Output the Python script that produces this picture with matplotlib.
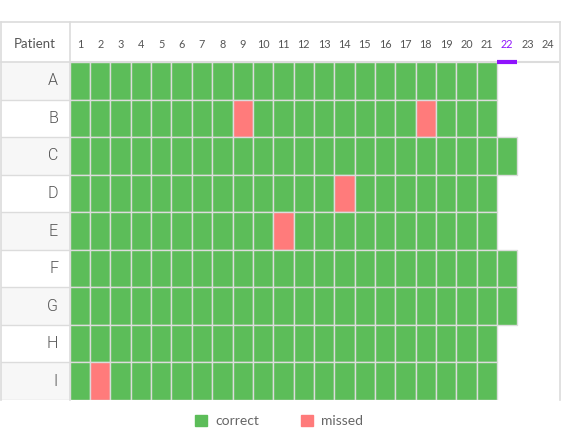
import matplotlib
matplotlib.use('Agg')
import matplotlib.pyplot as plt
from matplotlib.patches import Patch
from matplotlib.lines import Line2D
import numpy as np

plt.rcParams['font.family'] = ['Lato', 'DejaVu Sans']

# data
patients = ['A', 'B', 'C', 'D', 'E', 'F', 'G', 'H', 'I']
days_taken = [21, 21, 22, 21, 21, 22, 22, 21, 21]
missed = {'B': [9, 18], 'D': [14], 'E': [11], 'I': [2]}
day_labels = list(range(1, 25))
today = 22

GREEN = '#5cbd59'
RED = '#ff7b7b'
PURPLE = '#8f13fd'
LINE = '#dcdcdc'

W, H = 562, 436


def box(l, t, r, b):
    """ pixel box -> figure fraction rect """
    return [l / W, 1 - b / H, (r - l) / W, (b - t) / H]


fig = plt.figure(figsize=(W / 100, H / 100), dpi=100)

grid_l, grid_t, grid_b = 69.7, 62, 400
col_w = 20.35
grid_r = grid_l + col_w * len(day_labels)

ax = fig.add_axes(box(grid_l, grid_t, grid_r, grid_b))
lab = fig.add_axes(box(1, grid_t, grid_l, grid_b), sharey=ax)

for i, p in enumerate(patients):
    days = np.arange(1, days_taken[i] + 1)
    colors = [RED if d in missed.get(p, []) else GREEN for d in days]
    ax.barh(i, np.ones(len(days)), left=days - 0.5, height=1,
            color=colors, edgecolor=LINE, linewidth=1)

ax.set_xlim(0.5, len(day_labels) + 0.5)
ax.set_ylim(len(patients) - 0.5, -0.5)
for s in ax.spines.values():
    s.set_visible(False)
ax.set_xticks(day_labels)
ax.set_xticklabels([str(d) for d in day_labels])
ax.tick_params(axis='x', top=True, labeltop=True, bottom=False,
               labelbottom=False, length=0, pad=9, labelsize=7.8,
               labelcolor='#555555')
ax.get_xticklabels()[today - 1].set_color(PURPLE)
ax.set_yticks([])

# header underline with today marker
ax.plot([0.5, len(day_labels) + 0.5], [-0.5, -0.5], color=LINE,
        lw=1.5, clip_on=False, zorder=3)
ax.plot([today - 0.5, today + 0.5], [-0.5, -0.5], color=PURPLE,
        lw=3, clip_on=False, zorder=4, solid_capstyle='butt')

# patient label column
lab.set_xlim(0, 1)
for s in lab.spines.values():
    s.set_visible(False)
lab.set_xticks([])
lab.tick_params(axis='y', left=False, labelleft=False)
for i, p in enumerate(patients):
    if i % 2 == 0:
        lab.axhspan(i - 0.5, i + 0.5, color='#f7f7f7', lw=0)
    lab.axhline(i + 0.5, color=LINE, lw=1)
    lab.text(0.83, i, p, ha='right', va='center', fontsize=11.5,
             family=['Roboto', 'DejaVu Sans'], fontweight=300,
             color='#555555')

# table frame
frame = [((1, 22), (560, 22)), ((1, 22), (1, 400)), ((560, 22), (560, 400)),
         ((grid_l, 22), (grid_l, 400)), ((1, 62), (grid_l, 62))]
for (x0, y0), (x1, y1) in frame:
    fig.add_artist(Line2D([x0 / W, x1 / W], [1 - y0 / H, 1 - y1 / H],
                          color=LINE, lw=1.2))
fig.text(35 / W, 1 - 44 / H, 'Patient', ha='center', va='center',
         fontsize=9.5, color='#555555')

handles = [Patch(color=GREEN, label='correct'),
           Patch(color=RED, label='missed')]
fig.legend(handles=handles, loc='center', ncol=2, frameon=False,
           bbox_to_anchor=(279 / W, 1 - 421 / H), fontsize=10,
           handlelength=0.85, handleheight=0.85, handletextpad=0.6,
           columnspacing=3.0, labelcolor='#666666')

fig.savefig('out.png', dpi=100)
